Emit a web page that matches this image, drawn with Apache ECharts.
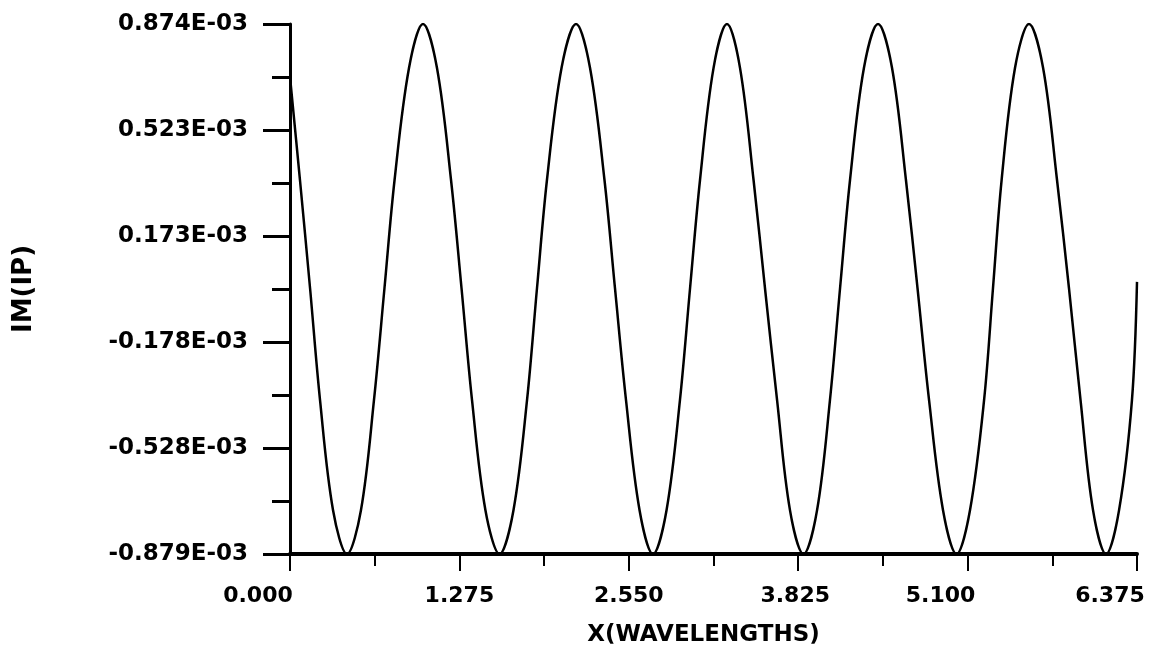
<!DOCTYPE html>
<html>
<head>
<meta charset="utf-8">
<title>IM(IP) vs X</title>
<script src="https://cdn.jsdelivr.net/npm/echarts@6/dist/echarts.min.js"></script>
<style>
  html, body { margin: 0; padding: 0; background: #fff; }
  #chart { width: 1162px; height: 657px; }
</style>
</head>
<body>
<div id="chart"></div>
<script>
// x positions in wavelengths
const xValues = [
  0.000, 0.075, 0.151, 0.226, 0.324, 0.429, 0.534, 0.632, 0.711, 0.787,
  0.896, 1.001, 1.106, 1.212, 1.291, 1.370, 1.471, 1.577, 1.682, 1.784,
  1.859, 1.934, 2.044, 2.153, 2.258, 2.367, 2.446, 2.529, 2.631, 2.732,
  2.834, 2.935, 3.011, 3.086, 3.188, 3.289, 3.387, 3.489, 3.575, 3.666,
  3.763, 3.865, 3.967, 4.064, 4.140, 4.215, 4.320, 4.426, 4.531, 4.636,
  4.723, 4.810, 4.915, 5.017, 5.118, 5.224, 5.291, 5.356, 5.457, 5.562,
  5.668, 5.773, 5.863, 5.950, 6.044, 6.142, 6.240, 6.337, 6.375
]
// IM(IP) in units of 1E-03
const imValues = [
  0.699, 0.358, 0.000, -0.370, -0.734, -0.879, -0.734, -0.370, 0.000, 0.358,
  0.729, 0.874, 0.729, 0.358, 0.000, -0.370, -0.734, -0.879, -0.734, -0.370,
  0.000, 0.358, 0.729, 0.874, 0.729, 0.358, 0.000, -0.370, -0.734, -0.879,
  -0.734, -0.370, 0.000, 0.358, 0.729, 0.874, 0.729, 0.358, 0.000, -0.370,
  -0.734, -0.879, -0.734, -0.370, 0.000, 0.358, 0.729, 0.874, 0.729, 0.358,
  0.000, -0.370, -0.734, -0.879, -0.734, -0.370, 0.000, 0.358, 0.729, 0.874,
  0.729, 0.358, 0.000, -0.370, -0.734, -0.879, -0.734, -0.370, 0.021
]

const yMin = -0.879
const yMax = 0.874
const yMajorTicks = [-0.879, -0.528, -0.178, 0.173, 0.523, 0.874]
const yMinorTicks = [-0.7035, -0.353, -0.0025, 0.348, 0.6985]

const xMin = 0
const xMax = 6.375
const xStep = 1.275

// the plotter put some x labels a bit left of their tick (px)
const xLabelShift = [32, 0, 0, 3, 27, 27]

const labelFont = {
  color: '#000',
  fontFamily: 'DejaVu Sans',
  fontWeight: 'bold',
  fontSize: 22
}

// one rich style per x label, moved left by padding on its right side
const xRich = {}
xLabelShift.forEach((s, i) => {
  xRich['l' + i] = { ...labelFont, padding: [0, s * 2, 0, 0] }
})

const chart = echarts.init(document.getElementById('chart'))

chart.setOption({
  animation: false,
  backgroundColor: '#fff',
  grid: { left: 290, right: 25, top: 24, bottom: 103, outerBoundsMode: 'none' },
  xAxis: {
    type: 'value',
    min: xMin,
    max: xMax,
    interval: xStep,
    name: 'X(WAVELENGTHS)',
    nameLocation: 'middle',
    nameGap: 70,
    nameTextStyle: { ...labelFont, fontSize: 23, padding: [0, 20, 0, 0] },
    axisLine: { show: true, onZero: false, lineStyle: { color: '#000', width: 4 } },
    axisTick: { show: true, length: 17, lineStyle: { color: '#000', width: 2 } },
    minorTick: { show: true, splitNumber: 2, length: 12, lineStyle: { color: '#000', width: 2 } },
    axisLabel: {
      ...labelFont,
      margin: 31,
      hideOverlap: false,
      formatter: v => {
        const i = Math.round((v - xMin) / xStep)
        return '{l' + i + '|' + v.toFixed(3) + '}'
      },
      rich: xRich
    },
    splitLine: { show: false },
    minorSplitLine: { show: false }
  },
  yAxis: [
    {
      type: 'value',
      min: yMin,
      max: yMax,
      position: 'left',
      name: 'IM(IP)',
      nameLocation: 'middle',
      nameGap: 253,
      nameRotate: 90,
      nameTextStyle: { ...labelFont, fontSize: 26 },
      axisLine: { show: true, onZero: false, lineStyle: { color: '#000', width: 3 } },
      axisTick: {
        show: true,
        length: 27,
        customValues: yMajorTicks,
        lineStyle: { color: '#000', width: 3 }
      },
      axisLabel: {
        ...labelFont,
        fontSize: 23,
        margin: 42,
        customValues: yMajorTicks,
        formatter: v => v.toFixed(3) + 'E-03'
      },
      splitLine: { show: false }
    },
    {
      type: 'value',
      min: yMin,
      max: yMax,
      position: 'left',
      offset: 0,
      axisLine: { show: false },
      axisTick: {
        show: true,
        length: 18,
        customValues: yMinorTicks,
        lineStyle: { color: '#000', width: 3 }
      },
      axisLabel: { show: false },
      splitLine: { show: false }
    }
  ],
  series: [
    {
      type: 'line',
      yAxisIndex: 0,
      data: xValues.map((x, i) => [x, imValues[i]]),
      smooth: 0.35,
      showSymbol: false,
      lineStyle: { color: '#000', width: 2.5 }
    }
  ]
})
</script>
</body>
</html>
